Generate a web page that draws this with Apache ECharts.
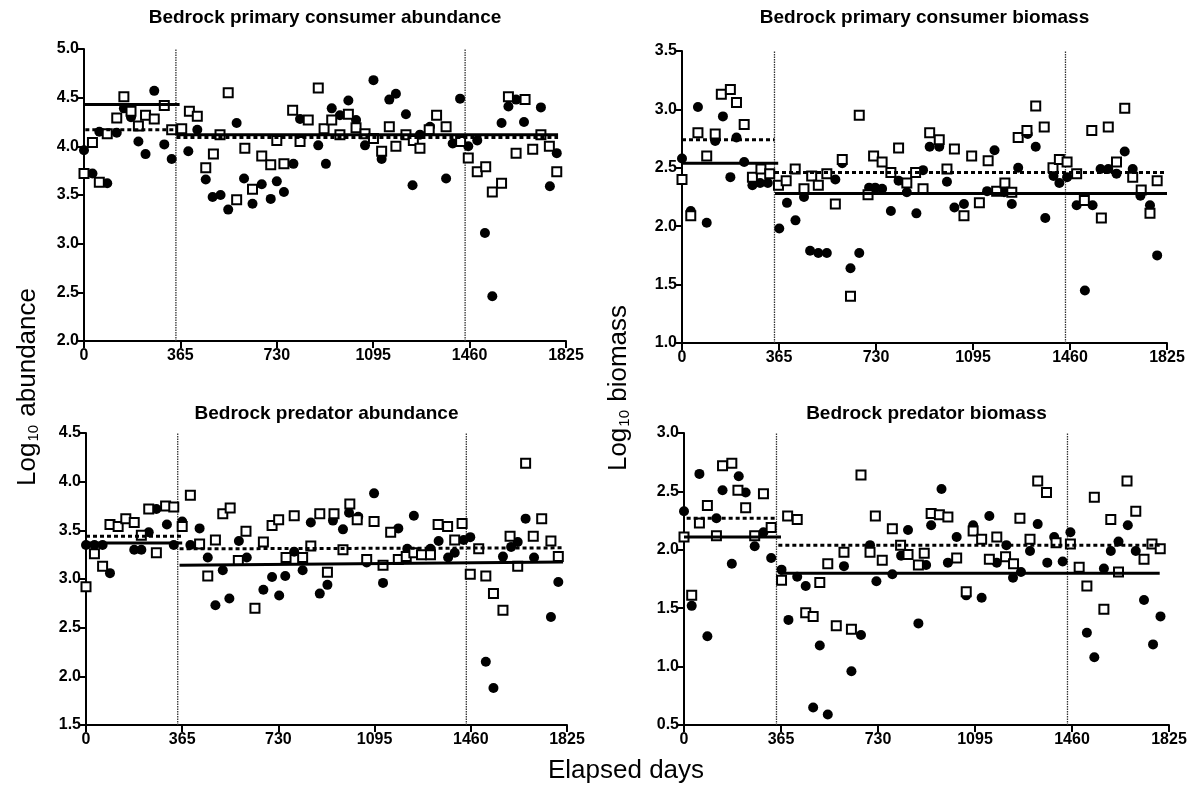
<!DOCTYPE html>
<html>
<head>
<meta charset="utf-8">
<title>Bedrock consumers</title>
<script src="https://cdn.jsdelivr.net/npm/echarts@6/dist/echarts.min.js"></script>
<style>
  html, body { margin: 0; padding: 0; background: #fff; }
  #charts { width: 1197px; height: 788px; }
</style>
</head>
<body>
<div id="charts"></div>
<script>
// x ticks and the two period boundaries (days)
const dayTicks = [0, 365, 730, 1095, 1460, 1825];
const breakDays = [348, 1443];

// primary consumer abundance: [day, log10 value]
const pcAbundFilled = [[0,3.96],[32,3.72],[58,4.15],[88,3.62],[124,4.14],[151,4.39],[178,4.30],[206,4.05],[233,3.92],[266,4.57],[304,4.02],[332,3.87],[395,3.95],[429,4.17],[461,3.66],[487,3.48],[517,3.50],[546,3.35],[578,4.24],[606,3.67],[638,3.41],[673,3.61],[707,3.46],[730,3.64],[757,3.53],[793,3.82],[818,4.28],[887,4.01],[916,3.82],[938,4.39],[969,4.32],[1001,4.47],[1030,4.27],[1064,4.01],[1096,4.68],[1127,3.87],[1156,4.48],[1181,4.54],[1219,4.33],[1244,3.60],[1272,4.12],[1310,4.20],[1371,3.67],[1396,4.03],[1424,4.49],[1455,4.00],[1489,4.06],[1518,3.11],[1546,2.46],[1581,4.24],[1607,4.41],[1636,4.48],[1666,4.25],[1730,4.40],[1764,3.59],[1790,3.93]];
const pcAbundOpen = [[0,3.72],[32,4.04],[58,3.63],[88,4.13],[124,4.29],[151,4.51],[178,4.36],[206,4.21],[233,4.32],[266,4.28],[304,4.42],[332,4.17],[370,4.18],[399,4.36],[429,4.31],[461,3.78],[490,3.92],[515,4.12],[546,4.55],[578,3.45],[609,3.98],[638,3.56],[673,3.90],[707,3.81],[730,4.06],[757,3.82],[790,4.37],[818,4.05],[849,4.27],[887,4.60],[909,4.18],[938,4.27],[969,4.12],[1001,4.33],[1030,4.19],[1064,4.13],[1096,4.08],[1127,3.95],[1156,4.20],[1181,4.00],[1219,4.12],[1247,4.06],[1272,3.98],[1307,4.17],[1335,4.32],[1371,4.20],[1426,4.05],[1455,3.88],[1489,3.74],[1521,3.79],[1546,3.53],[1581,3.62],[1607,4.51],[1636,3.93],[1670,4.48],[1699,3.97],[1730,4.12],[1762,4.00],[1790,3.74]];
// period means: [day from, value, day to, value]
const pcAbundSolid = [[0,4.43,362,4.43],[350,4.12,1795,4.12]];
const pcAbundDashed = [[5,4.17,345,4.17],[350,4.09,1795,4.09]];

// primary consumer biomass
const pcBioFilled = [[0,2.58],[33,2.13],[60,3.02],[93,2.03],[125,2.73],[154,2.94],[182,2.42],[205,2.76],[234,2.55],[265,2.35],[294,2.37],[323,2.37],[366,1.98],[395,2.20],[427,2.05],[459,2.25],[482,1.79],[513,1.77],[545,1.77],[577,2.40],[603,2.54],[634,1.64],[667,1.77],[704,2.33],[727,2.33],[753,2.32],[786,2.13],[815,2.39],[846,2.29],[882,2.11],[907,2.48],[932,2.68],[968,2.68],[997,2.38],[1025,2.16],[1061,2.19],[1148,2.30],[1176,2.65],[1212,2.29],[1241,2.19],[1265,2.50],[1301,2.79],[1331,2.68],[1367,2.07],[1398,2.43],[1420,2.37],[1449,2.42],[1485,2.18],[1516,1.45],[1545,2.18],[1575,2.49],[1604,2.49],[1635,2.45],[1666,2.64],[1696,2.49],[1725,2.26],[1761,2.18],[1788,1.75]];
const pcBioOpen = [[0,2.40],[33,2.09],[60,2.80],[93,2.60],[125,2.79],[148,3.13],[182,3.17],[205,3.06],[234,2.87],[265,2.42],[297,2.49],[330,2.45],[363,2.35],[392,2.39],[426,2.49],[459,2.32],[488,2.43],[513,2.35],[545,2.45],[577,2.19],[603,2.57],[634,1.40],[667,2.95],[700,2.27],[721,2.60],[753,2.55],[786,2.46],[815,2.67],[846,2.37],[879,2.46],[907,2.32],[932,2.80],[968,2.74],[997,2.49],[1025,2.66],[1061,2.09],[1090,2.60],[1119,2.20],[1152,2.56],[1184,2.30],[1215,2.37],[1241,2.29],[1265,2.76],[1298,2.82],[1331,3.03],[1363,2.85],[1396,2.50],[1420,2.57],[1449,2.55],[1485,2.45],[1514,2.22],[1542,2.82],[1578,2.07],[1604,2.85],[1635,2.55],[1666,3.01],[1696,2.42],[1728,2.31],[1761,2.11],[1788,2.39]];
const pcBioSolid = [[0,2.54,362,2.54],[350,2.28,1825,2.28]];
const pcBioDashed = [[0,2.74,348,2.74],[350,2.46,1820,2.46]];

// predator abundance
const predAbundFilled = [[0,3.35],[32,3.35],[63,3.35],[91,3.06],[183,3.30],[210,3.30],[238,3.48],[267,3.72],[307,3.56],[333,3.35],[365,3.59],[396,3.35],[431,3.52],[462,3.22],[491,2.73],[519,3.09],[544,2.80],[580,3.39],[610,3.22],[673,2.89],[706,3.02],[733,2.83],[756,3.03],[790,3.28],[822,3.09],[853,3.58],[887,2.85],[916,2.94],[937,3.60],[975,3.51],[998,3.68],[1033,3.64],[1065,3.17],[1093,3.88],[1127,2.96],[1185,3.52],[1219,3.31],[1244,3.65],[1307,3.31],[1338,3.39],[1374,3.22],[1399,3.27],[1433,3.40],[1458,3.43],[1517,2.15],[1546,1.88],[1582,3.23],[1613,3.33],[1638,3.38],[1668,3.62],[1700,3.22],[1764,2.61],[1792,2.97]];
const predAbundOpen = [[0,2.92],[32,3.26],[63,3.13],[91,3.56],[122,3.54],[151,3.62],[183,3.58],[210,3.45],[238,3.72],[267,3.27],[302,3.75],[333,3.74],[365,3.54],[396,3.86],[431,3.36],[462,3.03],[491,3.40],[519,3.67],[547,3.73],[578,3.19],[607,3.49],[641,2.70],[673,3.38],[706,3.55],[731,3.61],[759,3.22],[790,3.65],[822,3.22],[853,3.34],[887,3.67],[916,3.07],[941,3.67],[975,3.30],[1001,3.77],[1029,3.61],[1065,3.20],[1093,3.59],[1127,3.14],[1156,3.48],[1185,3.20],[1215,3.23],[1244,3.27],[1273,3.25],[1307,3.25],[1336,3.56],[1372,3.54],[1399,3.40],[1427,3.57],[1458,3.05],[1490,3.31],[1517,3.03],[1546,2.85],[1582,2.68],[1609,3.44],[1638,3.13],[1668,4.19],[1697,3.44],[1729,3.62],[1764,3.39],[1792,3.23]];
const predAbundSolid = [[0,3.37,365,3.37],[355,3.14,1810,3.175]];
const predAbundDashed = [[0,3.44,362,3.44],[355,3.31,1810,3.32]];

// predator biomass
const predBioFilled = [[0,2.33],[29,1.52],[58,2.65],[88,1.26],[122,2.27],[145,2.51],[180,1.88],[206,2.63],[232,2.49],[266,2.03],[299,2.15],[328,1.93],[367,1.83],[393,1.40],[426,1.77],[458,1.69],[486,0.65],[511,1.18],[541,0.59],[602,1.86],[630,0.96],[666,1.27],[700,2.04],[724,1.73],[784,1.79],[817,1.95],[843,2.17],[882,1.37],[911,1.87],[930,2.21],[969,2.52],[993,1.89],[1026,2.11],[1062,1.61],[1088,2.21],[1120,1.59],[1149,2.29],[1177,1.89],[1213,2.04],[1238,1.76],[1268,1.81],[1302,1.99],[1331,2.22],[1367,1.89],[1393,2.11],[1425,1.90],[1454,2.15],[1516,1.29],[1544,1.08],[1580,1.84],[1606,1.99],[1635,2.07],[1670,2.21],[1700,1.99],[1731,1.57],[1765,1.19],[1793,1.43]];
const predBioOpen = [[0,2.11],[29,1.61],[58,2.23],[88,2.38],[122,2.12],[145,2.72],[180,2.74],[203,2.51],[232,2.36],[266,2.12],[299,2.48],[328,2.19],[367,1.74],[390,2.29],[426,2.26],[458,1.46],[486,1.43],[511,1.72],[541,1.88],[573,1.35],[602,1.98],[630,1.32],[666,2.64],[700,1.98],[720,2.29],[746,1.91],[784,2.18],[815,2.04],[843,1.96],[882,1.87],[904,1.97],[930,2.31],[961,2.30],[993,2.28],[1026,1.93],[1062,1.64],[1088,2.16],[1120,2.09],[1149,1.92],[1177,2.11],[1210,1.94],[1240,1.88],[1264,2.27],[1302,2.09],[1331,2.59],[1364,2.49],[1400,2.06],[1454,2.05],[1487,1.85],[1516,1.69],[1544,2.45],[1580,1.49],[1606,2.26],[1635,1.81],[1667,2.59],[1700,2.33],[1731,1.92],[1761,2.05],[1792,2.01]];
const predBioSolid = [[0,2.11,365,2.11],[360,1.80,1790,1.80]];
const predBioDashed = [[10,2.27,350,2.27],[355,2.04,1790,2.04]];

const FONT = 'Liberation Sans, Arial, sans-serif';

let panels = [
  {title: 'Bedrock primary consumer abundance', grid: {left: 84, top: 49, width: 482, height: 292}, yMin: 2, yMax: 5,
   filled: pcAbundFilled, open: pcAbundOpen, solid: pcAbundSolid, dashed: pcAbundDashed},
  {title: 'Bedrock primary consumer biomass', grid: {left: 682, top: 51, width: 485, height: 292}, yMin: 1, yMax: 3.5,
   filled: pcBioFilled, open: pcBioOpen, solid: pcBioSolid, dashed: pcBioDashed},
  {title: 'Bedrock predator abundance', grid: {left: 86, top: 433, width: 481, height: 292}, yMin: 1.5, yMax: 4.5,
   filled: predAbundFilled, open: predAbundOpen, solid: predAbundSolid, dashed: predAbundDashed},
  {title: 'Bedrock predator biomass', grid: {left: 684, top: 433, width: 485, height: 292}, yMin: 0.5, yMax: 3,
   filled: predBioFilled, open: predBioOpen, solid: predBioSolid, dashed: predBioDashed}
];

let grids = [], xAxes = [], yAxes = [], series = [], graphics = [];
let tickLabel = {color: '#000', fontSize: 16, fontWeight: 'bold', fontFamily: FONT};

panels.forEach((p, i) => {
  grids.push(Object.assign({containLabel: false}, p.grid));
  xAxes.push({
    gridIndex: i, type: 'value', min: 0, max: 1825, interval: 365,
    axisLine: {onZero: false, lineStyle: {color: '#000', width: 2}},
    axisTick: {length: 7, lineStyle: {color: '#000', width: 2}},
    axisLabel: Object.assign({margin: 7, showMinLabel: true, showMaxLabel: true,
      formatter: v => dayTicks.indexOf(v) >= 0 ? String(v) : ''}, tickLabel),
    splitLine: {show: false}
  });
  yAxes.push({
    gridIndex: i, type: 'value', min: p.yMin, max: p.yMax, interval: 0.5,
    axisLine: {show: true, onZero: false, lineStyle: {color: '#000', width: 2}},
    axisTick: {show: true, length: 7, lineStyle: {color: '#000', width: 2}},
    axisLabel: Object.assign({margin: 5, formatter: v => v.toFixed(1)}, tickLabel),
    splitLine: {show: false}
  });

  // period boundaries
  breakDays.forEach(d => {
    series.push({
      type: 'line', xAxisIndex: i, yAxisIndex: i, data: [[d, p.yMin], [d, p.yMax]],
      symbol: 'none', silent: true, z: 1,
      lineStyle: {color: '#333', width: 1.3, type: [1.5, 1]}
    });
  });

  series.push({
    type: 'scatter', xAxisIndex: i, yAxisIndex: i, data: p.filled,
    symbol: 'circle', symbolSize: 10, itemStyle: {color: '#000', opacity: 1}, z: 2
  });
  series.push({
    type: 'scatter', xAxisIndex: i, yAxisIndex: i, data: p.open,
    symbol: 'rect', symbolSize: 9, itemStyle: {color: '#fff', borderColor: '#000', borderWidth: 2, opacity: 1}, z: 3
  });

  p.solid.forEach(s => {
    series.push({
      type: 'line', xAxisIndex: i, yAxisIndex: i, data: [[s[0], s[1]], [s[2], s[3]]],
      symbol: 'none', silent: true, z: 4, lineStyle: {color: '#000', width: 3}
    });
  });
  p.dashed.forEach(s => {
    series.push({
      type: 'line', xAxisIndex: i, yAxisIndex: i, data: [[s[0], s[1]], [s[2], s[3]]],
      symbol: 'none', silent: true, z: 4, lineStyle: {color: '#000', width: 3, type: [4, 3]}
    });
  });

  graphics.push({
    type: 'text', x: p.grid.left + p.grid.width / 2, y: i < 2 ? 18 : 414,
    style: {text: p.title, fill: '#000', font: 'bold 19px ' + FONT, textAlign: 'center', textVerticalAlign: 'middle'}
  });
});

// shared axis titles
let sub = {
  a: {fontSize: 26, fontFamily: FONT, color: '#000', verticalAlign: 'bottom', lineHeight: 30},
  s: {fontSize: 15, fontFamily: FONT, color: '#000', verticalAlign: 'bottom', lineHeight: 30, padding: [0, 1, 0, 1]}
};
graphics.push({
  type: 'text', x: 26, y: 387, rotation: Math.PI / 2,
  style: {text: '{a|Log}{s|10}{a| abundance}', rich: sub, textAlign: 'center', textVerticalAlign: 'middle'}
});
graphics.push({
  type: 'text', x: 617, y: 388, rotation: Math.PI / 2,
  style: {text: '{a|Log}{s|10}{a| biomass}', rich: sub, textAlign: 'center', textVerticalAlign: 'middle'}
});
graphics.push({
  type: 'text', x: 626, y: 771,
  style: {text: 'Elapsed days', fill: '#000', font: '26px ' + FONT, textAlign: 'center', textVerticalAlign: 'middle'}
});

let myChart = echarts.init(document.getElementById('charts'), null, {renderer: 'canvas'});
myChart.setOption({
  backgroundColor: '#fff',
  animation: false,
  grid: grids,
  xAxis: xAxes,
  yAxis: yAxes,
  series: series,
  graphic: graphics
});
</script>
</body>
</html>
